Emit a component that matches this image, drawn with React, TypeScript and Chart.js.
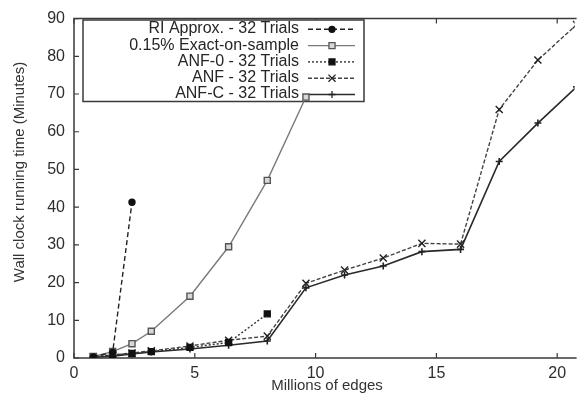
import React, { useEffect, useRef } from "react";
import { Chart, registerables } from "chart.js";

Chart.register(...registerables);

const xValues = [0.8, 1.6, 2.4, 3.2, 4.8, 6.4, 8.0, 9.6, 11.2, 12.8, 14.4, 16.0, 17.6, 19.2, 20.8];
const riApprox = [0.3, 1.5, 41.3];
const exactOnSample = [0.4, 1.7, 3.8, 7.1, 16.4, 29.5, 47.1, 69.2];
const anf0 = [0.3, 0.8, 1.2, 1.7, 2.8, 4.1, 11.7];
const anf = [0.3, 0.8, 1.3, 1.9, 3.2, 4.7, 5.8, 19.8, 23.3, 26.5, 30.4, 30.2, 65.9, 79.0, 88.4];
const anfC = [0.2, 0.5, 1.1, 1.6, 2.4, 3.4, 4.5, 18.6, 22.0, 24.4, 28.2, 28.8, 52.1, 62.3, 71.9];

const seriesNames = [
  "RI Approx. - 32 Trials",
  "0.15% Exact-on-sample",
  "ANF-0 - 32 Trials",
  "ANF - 32 Trials",
  "ANF-C - 32 Trials",
];
const xTicks = [0, 5, 10, 15, 20];
const yTicks = [0, 10, 20, 30, 40, 50, 60, 70, 80, 90];
const xTitle = "Millions of edges";
const yTitle = "Wall clock running time (Minutes)";

const FONT = '"Liberation Sans", Arial, Helvetica, sans-serif';
const FRAME = "#3a3a3a";

function toPoints(vals: number[]) {
  return vals.map((v, i) => ({ x: xValues[i], y: v }));
}

function drawMarker(ctx: CanvasRenderingContext2D, style: string, x: number, y: number, r: number, fill: string, stroke: string) {
  ctx.save();
  ctx.setLineDash([]);
  ctx.fillStyle = fill;
  ctx.strokeStyle = stroke;
  ctx.lineWidth = 1.3;
  ctx.beginPath();
  if (style === "circle") {
    ctx.arc(x, y, r, 0, Math.PI * 2);
    ctx.fill();
    ctx.stroke();
  } else if (style === "rect") {
    const s = Math.SQRT1_2 * r;
    ctx.rect(x - s, y - s, 2 * s, 2 * s);
    ctx.fill();
    ctx.stroke();
  } else if (style === "crossRot") {
    const s = Math.SQRT1_2 * r;
    ctx.moveTo(x - s, y - s);
    ctx.lineTo(x + s, y + s);
    ctx.moveTo(x - s, y + s);
    ctx.lineTo(x + s, y - s);
    ctx.stroke();
  } else if (style === "cross") {
    ctx.moveTo(x, y - r);
    ctx.lineTo(x, y + r);
    ctx.moveTo(x - r, y);
    ctx.lineTo(x + r, y);
    ctx.stroke();
  }
  ctx.restore();
}

const framePlugin = {
  id: "frameAndLegend",
  beforeDatasetsDraw(chart: any) {
    const ctx: CanvasRenderingContext2D = chart.ctx;
    const { left, right, top, bottom } = chart.chartArea;
    const xs = chart.scales.x;
    const ys = chart.scales.y;
    ctx.save();
    ctx.strokeStyle = FRAME;
    ctx.lineWidth = 1.5;
    ctx.setLineDash([]);
    ctx.beginPath();
    ctx.moveTo(right + 2, top);
    ctx.lineTo(left, top);
    ctx.lineTo(left, bottom);
    ctx.lineTo(right + 2, bottom);
    ctx.stroke();
    ctx.lineWidth = 1.2;
    ctx.beginPath();
    xTicks.forEach((t) => {
      const px = xs.getPixelForValue(t);
      ctx.moveTo(px, bottom);
      ctx.lineTo(px, bottom - 5);
      ctx.moveTo(px, top);
      ctx.lineTo(px, top + 5);
    });
    yTicks.forEach((t) => {
      const py = ys.getPixelForValue(t);
      ctx.moveTo(left, py);
      ctx.lineTo(left + 5, py);
    });
    ctx.stroke();

    // legend box
    const bx0 = 83, by0 = 20, bx1 = 364, by1 = 101.5;
    ctx.fillStyle = "#ffffff";
    ctx.fillRect(bx0, by0, bx1 - bx0, by1 - by0);
    ctx.lineWidth = 1.5;
    ctx.strokeStyle = FRAME;
    ctx.strokeRect(bx0, by0, bx1 - bx0, by1 - by0);
    ctx.font = "16px " + FONT;
    ctx.textAlign = "right";
    ctx.textBaseline = "middle";
    chart.data.datasets.forEach((ds: any, i: number) => {
      const y = 28.8 + i * 16.3;
      ctx.fillStyle = "#262626";
      ctx.fillText(seriesNames[i], 299, y);
      const ly = y + 0.5;
      ctx.save();
      ctx.strokeStyle = ds.borderColor;
      ctx.lineWidth = ds.borderWidth;
      ctx.setLineDash(ds.borderDash || []);
      ctx.beginPath();
      ctx.moveTo(308, ly);
      ctx.lineTo(355, ly);
      ctx.stroke();
      ctx.restore();
      drawMarker(ctx, ds.pointStyle, 332, ly, ds.pointRadius, ds.pointBackgroundColor, ds.pointBorderColor);
    });

    ctx.restore();
  },
  afterDraw(chart: any) {
    const ctx: CanvasRenderingContext2D = chart.ctx;
    ctx.save();
    ctx.fillStyle = "#333333";
    ctx.font = "15px " + FONT;
    ctx.textAlign = "center";
    ctx.textBaseline = "middle";
    ctx.fillText(xTitle, 327, 386);
    ctx.translate(20, 172);
    ctx.rotate(-Math.PI / 2);
    ctx.fillText(yTitle, 0, 0);
    ctx.restore();
  },
};

export default function App() {
  const ref = useRef<HTMLCanvasElement | null>(null);
  useEffect(() => {
    if (!ref.current) return;
    Chart.defaults.font.family = FONT;
    const chart = new Chart(ref.current, {
      type: "line",
      data: {
        datasets: [
          {
            label: seriesNames[0],
            data: toPoints(riApprox),
            borderColor: "#222222",
            borderWidth: 1.4,
            borderDash: [5, 3],
            pointStyle: "circle",
            pointRadius: 3,
            pointBackgroundColor: "#111111",
            pointBorderColor: "#111111",
          },
          {
            label: seriesNames[1],
            data: toPoints(exactOnSample),
            borderColor: "#7a7a7a",
            borderWidth: 1.4,
            borderDash: [],
            pointStyle: "rect",
            pointRadius: 4.3,
            pointBackgroundColor: "#d8d8d8",
            pointBorderColor: "#555555",
          },
          {
            label: seriesNames[2],
            data: toPoints(anf0),
            borderColor: "#333333",
            borderWidth: 1.4,
            borderDash: [2, 2],
            pointStyle: "rect",
            pointRadius: 4.2,
            pointBackgroundColor: "#111111",
            pointBorderColor: "#111111",
          },
          {
            label: seriesNames[3],
            data: toPoints(anf),
            borderColor: "#444444",
            borderWidth: 1.4,
            borderDash: [4, 2],
            pointStyle: "crossRot",
            pointRadius: 5,
            pointBackgroundColor: "#222222",
            pointBorderColor: "#222222",
          },
          {
            label: seriesNames[4],
            data: toPoints(anfC),
            borderColor: "#2a2a2a",
            borderWidth: 1.6,
            borderDash: [],
            pointStyle: "cross",
            pointRadius: 3.5,
            pointBackgroundColor: "#222222",
            pointBorderColor: "#222222",
          },
        ],
      },
      options: {
        animation: false,
        responsive: false,
        devicePixelRatio: 1,
        layout: { padding: { top: 15, right: 0, left: 0, bottom: 0 } },
        plugins: { legend: { display: false }, tooltip: { enabled: false } },
        elements: { line: { tension: 0 } },
        scales: {
          x: {
            type: "linear",
            min: 0,
            max: 20.72,
            grid: { display: false, drawTicks: false },
            border: { display: false },
            afterBuildTicks: (s: any) => {
              s.ticks = xTicks.map((v) => ({ value: v }));
            },
            afterFit: (s: any) => {
              s.height = 47;
            },
            ticks: { color: "#2e2e2e", font: { size: 16, family: FONT }, padding: 6, maxRotation: 0 },
          },
          y: {
            type: "linear",
            min: 0,
            max: 90,
            grid: { display: false, drawTicks: false },
            border: { display: false },
            afterBuildTicks: (s: any) => {
              s.ticks = yTicks.map((v) => ({ value: v }));
            },
            afterFit: (s: any) => {
              s.width = 74;
            },
            ticks: { color: "#2e2e2e", font: { size: 16, family: FONT }, padding: 9 },
          },
        },
      },
      plugins: [framePlugin],
    } as any);
    return () => chart.destroy();
  }, []);
  return (
    <div style={{ position: "fixed", left: 0, top: 0, width: 581, height: 405, background: "#fff" }}>
      <canvas ref={ref} width={581} height={405} style={{ width: 581, height: 405, display: "block" }} />
    </div>
  );
}
